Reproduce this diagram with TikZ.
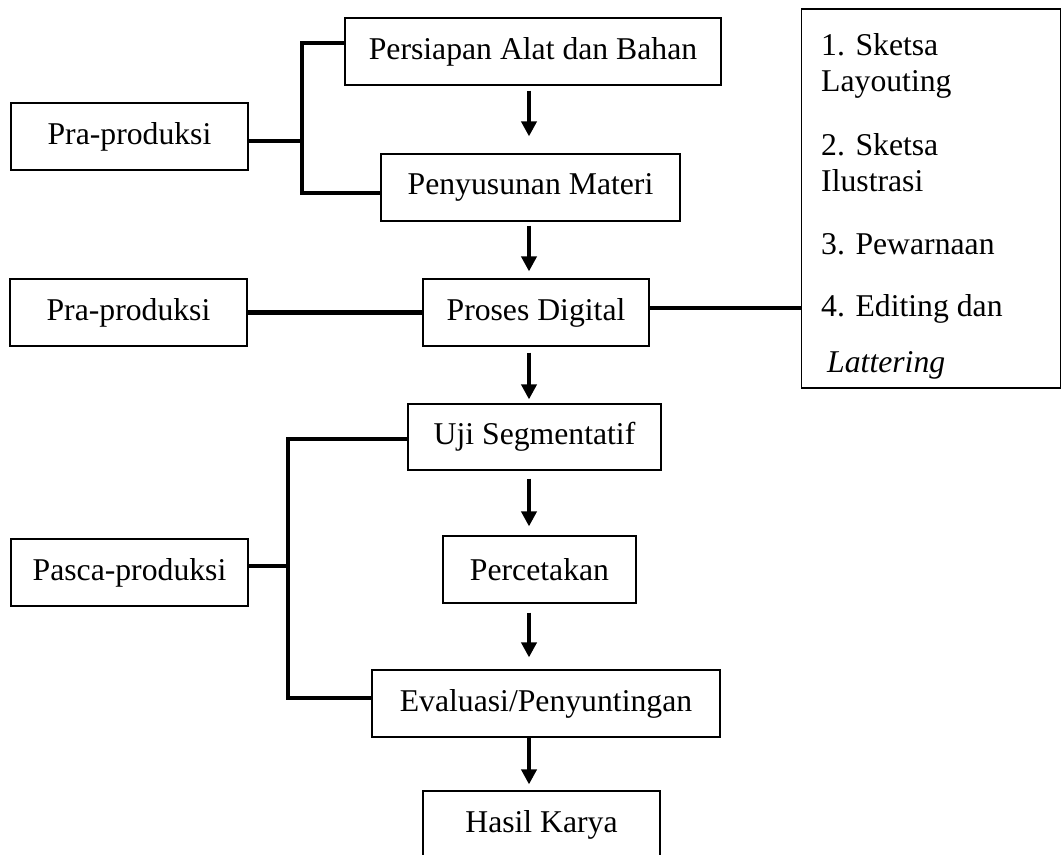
\documentclass[tikz,border=0pt]{standalone}
\usepackage{fontspec}
\setmainfont{Liberation Serif}
\usetikzlibrary{arrows.meta}

\tikzset{
  kotak/.style={draw, line width=1.2pt, minimum height=67pt, inner sep=0pt},
  garis/.style={line width=4.5pt},
  panah/.style={line width=4.5pt, -{Triangle[width=15pt,length=15pt]}},
}

\begin{document}
\begin{tikzpicture}[x=1pt, y=-1pt, font=\fontsize{31.7}{36}\selectfont]
  \clip (0,0) rectangle (1062,854); % Rand
  % die Kaesten links
  \node[kotak, minimum width=237pt] (pra1) at (129.5,136.5) {Pra-produksi};
  \node[kotak, minimum width=237pt] (pra2) at (128.5,312.5) {Pra-produksi};
  \node[kotak, minimum width=237pt] (pasca) at (129.5,572.5) {Pasca-produksi};
  % die Kaesten in der Mitte
  \node[kotak, minimum width=376pt] (persiapan) at (533,51.5) {Persiapan Alat dan Bahan};
  \node[kotak, minimum width=299pt] (penyusunan) at (530.5,187.5) {Penyusunan Materi};
  \node[kotak, minimum width=226pt] (proses) at (536,312.5) {Proses Digital};
  \node[kotak, minimum width=253pt, minimum height=66pt] (uji) at (534.5,437) {Uji Segmentatif};
  \node[kotak, minimum width=193pt] (percetakan) at (539.5,569.5) {Percetakan};
  \node[kotak, minimum width=348pt] (evaluasi) at (546,703.5) {Evaluasi/Penyuntingan};
  \node[kotak, minimum width=237pt] (hasil) at (541.5,824.5) {Hasil Karya};
  % der Kasten rechts
  \node[kotak, minimum width=259pt, minimum height=379pt] (rincian) at (931,198.5) {};
  \node[anchor=north west, align=left, inner sep=0pt] (isi) at (821,33)
    {1. Sketsa\\ Layouting\\[28pt] 2. Sketsa\\ Ilustrasi\\[27pt] 3. Pewarnaan\\[26pt]
     4. Editing dan\\[20pt] \hspace*{6pt}\textit{Lattering}};
  % Pfeile
  \coordinate (sumbu) at (529,0);
  \foreach \a/\b/\s/\e in {persiapan/penyusunan/5/17, penyusunan/proses/4/7,
      proses/uji/6/4, uji/percetakan/8/9, percetakan/evaluasi/9/12, evaluasi/hasil/0/6}
    \draw[panah, shorten <=\s pt, shorten >=\e pt] (\a.south -| sumbu) -- (\b.north -| sumbu);
  % Klammern
  \coordinate (k1) at (302,43);
  \coordinate (k2) at (302,193);
  \coordinate (k3) at (302,141);
  \draw[garis] (k1 -| persiapan.west) -- (k1) -- (k2) -- (k2 -| penyusunan.west);
  \draw[garis] (pra1.east |- k3) -- (k3);
  \draw[garis] (pra2) -- (proses);
  \coordinate (k4) at (801,308);
  \draw[garis] (proses.east |- k4) -- (k4);
  \coordinate (k5) at (288,439);
  \coordinate (k6) at (288,698);
  \coordinate (k7) at (288,566);
  \draw[garis] (k5 -| uji.west) -- (k5) -- (k6) -- (k6 -| evaluasi.west);
  \draw[garis] (pasca.east |- k7) -- (k7);
\end{tikzpicture}
\end{document}
